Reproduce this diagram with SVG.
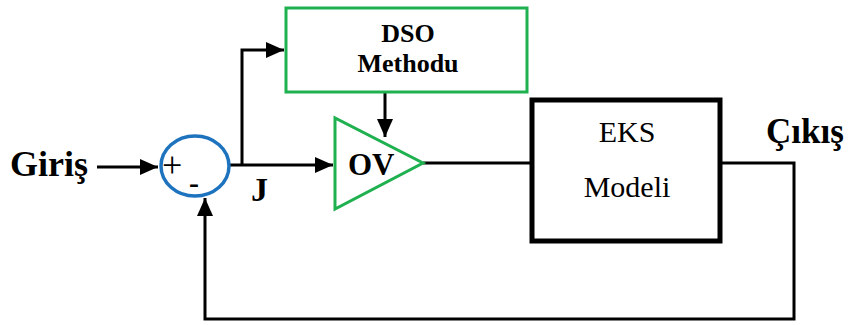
<svg xmlns="http://www.w3.org/2000/svg" width="854" height="325" viewBox="0 0 854 325">
<style>
.ln{fill:none;stroke:#000;stroke-width:3}
.b{font-family:"Liberation Serif","Times New Roman",serif;font-weight:bold;fill:#000}
.r{font-family:"Liberation Serif","Times New Roman",serif;fill:#000}
</style>
<defs>
<marker id="ah" markerUnits="userSpaceOnUse" markerWidth="20" markerHeight="16" refX="18" refY="8" orient="auto">
<path d="M0,0 L18,8 L0,16 Z" fill="#000"/>
</marker>
</defs>
<rect width="854" height="325" fill="#fff"/>
<g id="connectors">
<line class="ln" x1="97" y1="167" x2="158" y2="167" marker-end="url(#ah)"/>
<line class="ln" x1="230" y1="165" x2="333" y2="165" marker-end="url(#ah)"/>
<polyline class="ln" points="242,165 242,50 284,50" marker-end="url(#ah)"/>
<line class="ln" x1="385" y1="92" x2="385" y2="137" marker-end="url(#ah)"/>
<line class="ln" x1="423" y1="163" x2="530" y2="163"/>
<polyline class="ln" points="722,163 794,163 794,319 205,319 205,198" marker-end="url(#ah)"/>
</g>
<g id="input"><text class="b" x="10" y="176" font-size="36">Giriş</text></g>
<g id="sum">
<ellipse cx="195" cy="166" rx="34" ry="30" fill="none" stroke="#1e73be" stroke-width="3.5"/>
<text class="r" x="162" y="177" font-size="36">+</text>
<text class="b" x="189" y="193" font-size="30">-</text>
</g>
<g id="dso">
<rect x="286" y="8" width="241" height="84" fill="#fff" stroke="#1fb04f" stroke-width="3"/>
<text class="b" x="408" y="42" font-size="26" text-anchor="middle">DSO</text>
<text class="b" x="408" y="72" font-size="26" text-anchor="middle">Methodu</text>
</g>
<g id="ov">
<polygon points="335,118 335,209 423,163" fill="#fff" stroke="#1fb04f" stroke-width="3"/>
<text class="b" x="348" y="175" font-size="31">OV</text>
</g>
<g id="eks">
<rect x="532" y="100" width="188" height="141" fill="#fff" stroke="#000" stroke-width="5"/>
<text class="r" x="627" y="142" font-size="30" text-anchor="middle">EKS</text>
<text class="r" x="627" y="197" font-size="30" text-anchor="middle">Modeli</text>
</g>
<g id="output"><text class="b" x="766" y="143" font-size="35">Çıkış</text></g>
<g id="jlabel"><text class="b" x="251" y="201" font-size="34">J</text></g>
</svg>
